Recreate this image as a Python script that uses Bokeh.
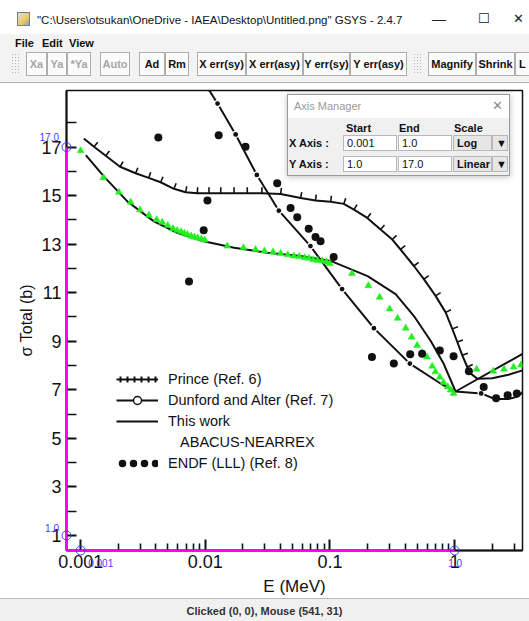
import numpy as np
from bokeh.plotting import figure
from bokeh.models import Range1d, FixedTicker, Legend, LegendItem, Div
from bokeh.layouts import column
from bokeh.embed import file_html
from bokeh.resources import INLINE

# ---------------- data ----------------
# Prince (Ref. 6) - line with ticks
prince_E = [0.00106, 0.00128, 0.00159, 0.00207, 0.00276, 0.00351, 0.00438, 0.00560,
            0.00695, 0.00863, 0.0107, 0.0133, 0.0170, 0.0217, 0.0284, 0.0402, 0.0581,
            0.0765, 0.1012, 0.129, 0.1556, 0.199, 0.2545, 0.316, 0.368, 0.471, 0.566,
            0.703, 0.846, 0.957, 1.050, 1.151, 1.262, 1.341, 1.517, 2.0, 2.7, 3.5]
prince_s = [17.35, 17.01, 16.64, 16.19, 15.92, 15.73, 15.55, 15.28,
            15.14, 15.10, 15.10, 15.10, 15.10, 15.10, 15.10, 15.07, 14.90,
            14.80, 14.75, 14.66, 14.42, 14.08, 13.60, 13.19, 12.78, 12.10, 11.56,
            10.87, 10.19, 9.51, 8.97, 8.42, 7.94, 7.67, 7.46, 7.48, 7.62, 7.80]
PRINCE_TICK_MAX_E = 1.3

# Dunford and Alter (Ref. 7)
dunford_E = [0.0100, 0.0110, 0.01253, 0.0175, 0.0259, 0.0389, 0.0697, 0.125, 0.225,
             0.437, 0.77, 1.017, 1.63, 2.1, 2.7, 3.2, 3.6]
dunford_s = [19.50, 19.26, 18.79, 17.52, 15.85, 14.38, 12.92, 11.15, 9.54,
             8.08, 7.26, 6.93, 6.85, 6.62, 6.62, 6.72, 6.95]
dunford_mark_E = [0.01253, 0.0175, 0.0259, 0.0389, 0.0697, 0.125, 0.225, 0.437, 1.63]
dunford_mark_s = [18.79, 17.52, 15.85, 14.38, 12.92, 11.15, 9.54, 8.08, 6.85]

# This work, ABACUS-NEARREX
this_E = [0.00110, 0.00154, 0.00237, 0.00387, 0.00595, 0.0097, 0.0170, 0.0314, 0.058,
          0.1012, 0.2003, 0.336, 0.477, 0.641, 0.815, 1.017, 3.5]
this_s = [16.67, 15.78, 14.76, 13.94, 13.47, 13.12, 12.85, 12.65, 12.51,
          12.31, 11.68, 10.94, 10.00, 9.02, 8.08, 6.93, 8.48]

# ENDF (LLL) (Ref. 8)
endf_E = [0.00420, 0.0074, 0.0097, 0.0104, 0.0128, 0.0210, 0.0377, 0.0483, 0.0546,
          0.0675, 0.0765, 0.084, 0.107, 0.217, 0.325, 0.44, 0.548, 0.76, 0.98,
          1.30, 1.71, 2.15, 2.66, 3.15]
endf_s = [17.39, 11.46, 13.57, 14.80, 17.49, 17.01, 15.51, 14.49, 14.11,
          13.63, 13.29, 13.12, 12.47, 8.35, 8.08, 8.46, 8.49, 8.62, 8.38,
          7.76, 7.12, 6.65, 6.78, 6.85]

digit_E = [0.0010, 0.00152, 0.00203, 0.00252, 0.00299, 0.00353, 0.00407, 0.00452, 0.0050,
           0.0055, 0.00595, 0.0064, 0.0068, 0.0072, 0.0077, 0.0082, 0.0087, 0.0093, 0.0099,
           0.0150, 0.0202, 0.0253, 0.0298, 0.0349, 0.0402, 0.0459, 0.0513, 0.0567, 0.0626,
           0.0677, 0.0734, 0.0798, 0.0866, 0.0936, 0.0997, 0.150, 0.203, 0.250, 0.301,
           0.349, 0.405, 0.452, 0.50, 0.548, 0.60, 0.66, 0.70, 0.76, 0.815, 0.88, 0.93,
           0.98, 1.50, 2.04, 2.49, 2.97, 3.40]
digit_s = [16.85, 15.74, 15.14, 14.73, 14.41, 14.19, 14.01, 13.90, 13.77,
           13.64, 13.56, 13.51, 13.45, 13.40, 13.33, 13.29, 13.25, 13.21, 13.17,
           12.92, 12.85, 12.78, 12.72, 12.68, 12.62, 12.56, 12.51, 12.49, 12.44,
           12.42, 12.36, 12.33, 12.31, 12.27, 12.20, 11.79, 11.29, 10.81, 10.33,
           9.95, 9.54, 9.17, 8.83, 8.53, 8.35, 7.97, 7.74, 7.52, 7.30, 7.12, 6.99,
           6.85, 7.85, 7.77, 7.85, 7.94, 8.02]

# axis calibration (GSYS Axis Manager)
cal_x = [0.001, 1.0]
cal_x_text = ["0.001", "1.0"]
cal_y = [1.0, 17.0]
cal_y_text = ["1.0", "17.0"]

# ticks
x_major = [0.001, 0.01, 0.1, 1.0]
x_major_labels = ["0.001", "0.01", "0.1", "1"]
x_minor = [0.002, 0.003, 0.004, 0.005, 0.006, 0.007, 0.008, 0.009,
           0.02, 0.03, 0.04, 0.05, 0.06, 0.07, 0.08, 0.09,
           0.2, 0.3, 0.4, 0.5, 0.6, 0.7, 0.8, 0.9, 2.0, 3.0]
y_major = [1, 3, 5, 7, 9, 11, 13, 15, 17]
y_minor = [2, 4, 6, 8, 10, 12, 14, 16, 18]

X_START, X_END = 0.00077, 3.5
Y_START, Y_END = 0.38, 19.33

# ---------------- figure ----------------
TOP_H, STATUS_H = 85, 23
W, H = 529, 513
ML, MR, MT, MB = 66, 7, 5, 45
FONT = "Liberation Sans"
INK = "#111111"

p = figure(width=W, height=H, x_axis_type="log",
           x_range=Range1d(X_START, X_END), y_range=Range1d(Y_START, Y_END),
           output_backend="svg", toolbar_location=None,
           min_border_left=ML, min_border_right=MR, min_border_top=MT, min_border_bottom=MB,
           background_fill_color="white", border_fill_color="white")
p.grid.visible = False
p.outline_line_color = INK
p.outline_line_width = 1.5

xa = p.xaxis[0]
xa.ticker = FixedTicker(ticks=x_major, minor_ticks=x_minor)
xa.major_label_overrides = {t: l for t, l in zip(x_major, x_major_labels)}
ya = p.yaxis[0]
ya.ticker = FixedTicker(ticks=y_major, minor_ticks=y_minor)
for ax in (xa, ya):
    ax.axis_line_color = INK
    ax.axis_line_width = 2
    ax.major_tick_out = 0
    ax.minor_tick_out = 0
    ax.major_tick_line_color = INK
    ax.minor_tick_line_color = INK
    ax.major_tick_line_width = 2
    ax.minor_tick_line_width = 1.6
    ax.major_label_text_font = FONT
    ax.major_label_text_font_size = "18px"
    ax.major_label_text_color = INK
    ax.axis_label_text_font = FONT
    ax.axis_label_text_font_style = "normal"
    ax.axis_label_text_color = INK
xa.major_tick_in = 11
xa.minor_tick_in = 7
xa.major_label_standoff = 4
xa.axis_label = "E (MeV)"
xa.axis_label_text_font_size = "17px"
xa.axis_label_standoff = 6
ya.major_tick_in = 10
ya.minor_tick_in = 10
ya.major_label_standoff = 5
ya.axis_label = "σ Total (b)"
ya.axis_label_text_font_size = "16px"
ya.axis_label_standoff = 3

# pixel scales of the frame (used for the perpendicular Prince ticks and overlay labels)
fw = W - ML - MR
fh = H - MT - MB
sx = fw / (np.log10(X_END) - np.log10(X_START))
sy = fh / (Y_END - Y_START)

TICK_LEN = 6.0
lx = np.log10(prince_E)
ps = np.array(prince_s)
tx0, ty0, tx1, ty1 = [], [], [], []
for i in range(1, len(lx) - 1):
    if prince_E[i] > PRINCE_TICK_MAX_E:
        break
    dX = (lx[i + 1] - lx[i - 1]) * sx
    dY = (ps[i + 1] - ps[i - 1]) * sy
    n = np.hypot(dX, dY)
    nx, ny = -dY / n, dX / n
    tx0.append(prince_E[i]); ty0.append(ps[i])
    tx1.append(10 ** (lx[i] + nx * TICK_LEN / sx)); ty1.append(ps[i] + ny * TICK_LEN / sy)

r_prince = p.line(prince_E, prince_s, line_color=INK, line_width=2)
p.segment(tx0, ty0, tx1, ty1, line_color=INK, line_width=1.6)

r_dun = p.line(dunford_E, dunford_s, line_color=INK, line_width=2)
p.scatter(dunford_mark_E, dunford_mark_s, marker="circle", size=6,
          fill_color=INK, line_color="white", line_width=1.2)

r_this = p.line(this_E, this_s, line_color=INK, line_width=2)

p.scatter(digit_E, digit_s, marker="triangle", size=7,
          fill_color="#22ee22", line_color="#22ee22", line_width=0.5)

p.scatter(endf_E, endf_s, marker="circle", size=8, fill_color=INK, line_color=None)

# legend-only glyphs (hidden on the chart, drawn only as legend symbols)
r_prince_leg = p.line(prince_E, prince_s, line_color=INK, line_width=6, line_dash="2 5",
                      line_dash_offset=-3, line_cap="butt", visible=False)
r_dun_leg = p.scatter(dunford_mark_E, dunford_mark_s, marker="circle", size=7, fill_color="white",
                      line_color=INK, line_width=1.5, visible=False)
r_blank = p.line(this_E, this_s, line_alpha=0, visible=False)
r_endf_leg = p.line(endf_E, endf_s, line_color=INK, line_width=7.5, line_dash="0 11",
                    line_dash_offset=5, line_cap="round", visible=False)

legend = Legend(items=[
    LegendItem(label="Prince (Ref. 6)", renderers=[r_prince, r_prince_leg]),
    LegendItem(label="Dunford and Alter (Ref. 7)", renderers=[r_dun, r_dun_leg]),
    LegendItem(label="This work", renderers=[r_this]),
    LegendItem(label="\u00a0\u00a0\u00a0ABACUS-NEARREX", renderers=[r_blank]),
    LegendItem(label="ENDF (LLL) (Ref. 8)", renderers=[r_endf_leg]),
], location=(50, 77), border_line_color=None, background_fill_alpha=0,
    padding=0, margin=0, spacing=1, glyph_width=42, glyph_height=20, label_height=20,
    label_standoff=10, label_text_font=FONT, label_text_font_size="14.5px",
    label_text_color=INK, click_policy="none")
p.add_layout(legend)

# GSYS calibration overlay (lines and circles drawn through the plot scales)
MAG = "#ff00ff"
BLUE = "#3c3cff"
p.line([X_START, X_START], [cal_y[1], Y_START], line_color=MAG, line_width=2, level="overlay")
p.line([X_START, cal_x[1]], [Y_START, Y_START], line_color=MAG, line_width=2, level="overlay")
p.scatter([X_START] * len(cal_y) + cal_x, cal_y + [Y_START] * len(cal_x), marker="circle",
          size=9, fill_color=None, line_color=BLUE, line_width=1, level="overlay")

# page position of a data point (figure sits at x=0, below the top chrome)
def to_page(xv, yv):
    px = ML + (np.log10(xv) - np.log10(X_START)) * sx
    py = TOP_H + MT + fh - (yv - Y_START) * sy
    return px, py

cal_labels = ""
for yv, t in zip(cal_y, cal_y_text):
    px, py = to_page(X_START, yv)
    cal_labels += (f'<div style="position:absolute;left:{px - 7:.1f}px;top:{py - 14:.1f}px;'
                   f'transform:translateX(-100%);font-size:10px;line-height:10px;color:{BLUE};'
                   f'z-index:15;white-space:nowrap;">{t}</div>')
for xv, t, off in zip(cal_x, cal_x_text, [8, -6]):
    px, py = to_page(xv, Y_START)
    cal_labels += (f'<div style="position:absolute;left:{px + off:.1f}px;top:{py + 6:.1f}px;'
                   f'font-size:10px;line-height:10px;color:{BLUE};z-index:15;white-space:nowrap;">{t}</div>')

# ---------------- window chrome ----------------
def btn(label, left, width, disabled=False, extra=""):
    col = "#a6a6a6" if disabled else "#111"
    return (f'<div style="position:absolute;left:{left}px;top:52px;width:{width}px;height:24px;'
            f'box-sizing:border-box;border:1px solid #adadad;background:#fbfbfb;font-weight:bold;'
            f'font-size:11px;line-height:22px;text-align:center;color:{col};overflow:hidden;{extra}">{label}</div>')

grip = ('<div style="position:absolute;left:{l}px;top:53px;width:8px;height:22px;'
        'background-image:radial-gradient(#b5b5b5 0.8px, transparent 0.9px);background-size:3px 3px;"></div>')

def field(left, top, width, text, combo=False):
    bg = "#e6e6e6" if combo else "#ffffff"
    fwt = "bold" if combo else "normal"
    return (f'<div style="position:absolute;left:{left}px;top:{top}px;width:{width}px;height:16px;'
            f'box-sizing:border-box;border:1px solid #b8b8b8;background:{bg};font-size:11px;'
            f'font-weight:{fwt};line-height:14px;padding-left:3px;color:#111;">{text}</div>')

dialog = (
    '<div style="position:absolute;left:287px;top:94px;width:223px;height:82px;z-index:20;'
    'box-sizing:border-box;border:1px solid #9a9a9a;background:#f0f0f0;'
    'box-shadow:0 1px 6px rgba(0,0,0,0.25);font-size:11px;">'
    '<div style="position:absolute;left:0;top:0;width:221px;height:23px;background:#fff;"></div>'
    '<div style="position:absolute;left:6px;top:4px;color:#9a9a9a;">Axis Manager</div>'
    '<div style="position:absolute;left:204px;top:2px;color:#8a8a8a;font-size:13px;">&#x2715;</div>'
    '<div style="position:absolute;left:58px;top:26px;font-weight:bold;">Start</div>'
    '<div style="position:absolute;left:111px;top:26px;font-weight:bold;">End</div>'
    '<div style="position:absolute;left:166px;top:26px;font-weight:bold;">Scale</div>'
    '<div style="position:absolute;left:1px;top:41px;font-weight:bold;">X Axis :</div>'
    '<div style="position:absolute;left:1px;top:62px;font-weight:bold;">Y Axis :</div>'
    + field(55, 40, 54, "0.001") + field(110, 40, 54, "1.0") + field(165, 40, 39, "Log", True)
    + field(204, 40, 16, "&#9660;", True)
    + field(55, 61, 54, "1.0") + field(110, 61, 54, "17.0") + field(165, 61, 39, "Linear", True)
    + field(204, 61, 16, "&#9660;", True)
    + '</div>'
)

top_html = (
    f'<div style="position:relative;width:529px;height:{TOP_H}px;font-family:\'Liberation Sans\',Arial,sans-serif;'
    'color:#111;overflow:visible;">'
    '<div style="position:absolute;left:17px;top:12px;width:13px;height:14px;box-sizing:border-box;'
    'border:1px solid #7b7b7b;background:linear-gradient(135deg,#cfe0f3 0%,#f1c95a 60%,#7aa6d6 100%);"></div>'
    '<div style="position:absolute;left:37px;top:12px;font-size:11.5px;white-space:nowrap;">'
    '"C:\\Users\\otsukan\\OneDrive - IAEA\\Desktop\\Untitled.png" GSYS - 2.4.7</div>'
    '<div style="position:absolute;left:432px;top:9px;font-size:14px;color:#222;">&#8212;</div>'
    '<div style="position:absolute;left:478px;top:10px;font-size:13px;color:#222;font-family:\'DejaVu Sans\';">&#9744;</div>'
    '<div style="position:absolute;left:513px;top:10px;font-size:13px;color:#222;font-family:\'DejaVu Sans\';">&#x2715;</div>'
    '<div style="position:absolute;left:0;top:34px;width:529px;height:48px;background:#f3f3f3;"></div>'
    '<div style="position:absolute;left:15px;top:36px;font-size:11px;font-weight:bold;">File</div>'
    '<div style="position:absolute;left:42px;top:36px;font-size:11px;font-weight:bold;">Edit</div>'
    '<div style="position:absolute;left:69px;top:36px;font-size:11px;font-weight:bold;">View</div>'
    + grip.format(l=11)
    + btn("Xa", 26, 21, True) + btn("Ya", 47, 20, True) + btn("*Ya", 67, 24, True)
    + btn("Auto", 100, 30, True) + btn("Ad", 139, 26) + btn("Rm", 165, 24)
    + btn("X err(sy)", 197, 49) + btn("X err(asy)", 246, 57) + btn("Y err(sy)", 303, 47)
    + btn("Y err(asy)", 350, 57)
    + grip.format(l=413)
    + btn("Magnify", 428, 48) + btn("Shrink", 476, 39)
    + btn("L", 515, 14, extra="text-align:left;padding-left:3px;border-right:none;")
    + '<div style="position:absolute;left:0;top:82px;width:529px;height:1px;background:#b4b4b4;"></div>'
    + dialog
    + cal_labels
    + '</div>'
)
top_div = Div(text=top_html, width=529, height=TOP_H, margin=0,
              styles={"overflow": "visible", "z-index": "5"})

status_html = (
    f'<div style="position:relative;width:529px;height:{STATUS_H}px;background:#f0f0f0;'
    'border-top:1px solid #b9b9b9;box-sizing:border-box;font-family:\'Liberation Sans\',Arial,sans-serif;">'
    '<div style="position:absolute;left:0;top:5px;width:529px;text-align:center;font-size:11px;'
    'font-weight:bold;color:#333;">Clicked (0, 0), Mouse (541, 31)</div></div>'
)
status_div = Div(text=status_html, width=529, height=STATUS_H, margin=0)

layout = column(top_div, p, status_div, spacing=0)
open("out.html", "w").write(file_html(layout, INLINE))
